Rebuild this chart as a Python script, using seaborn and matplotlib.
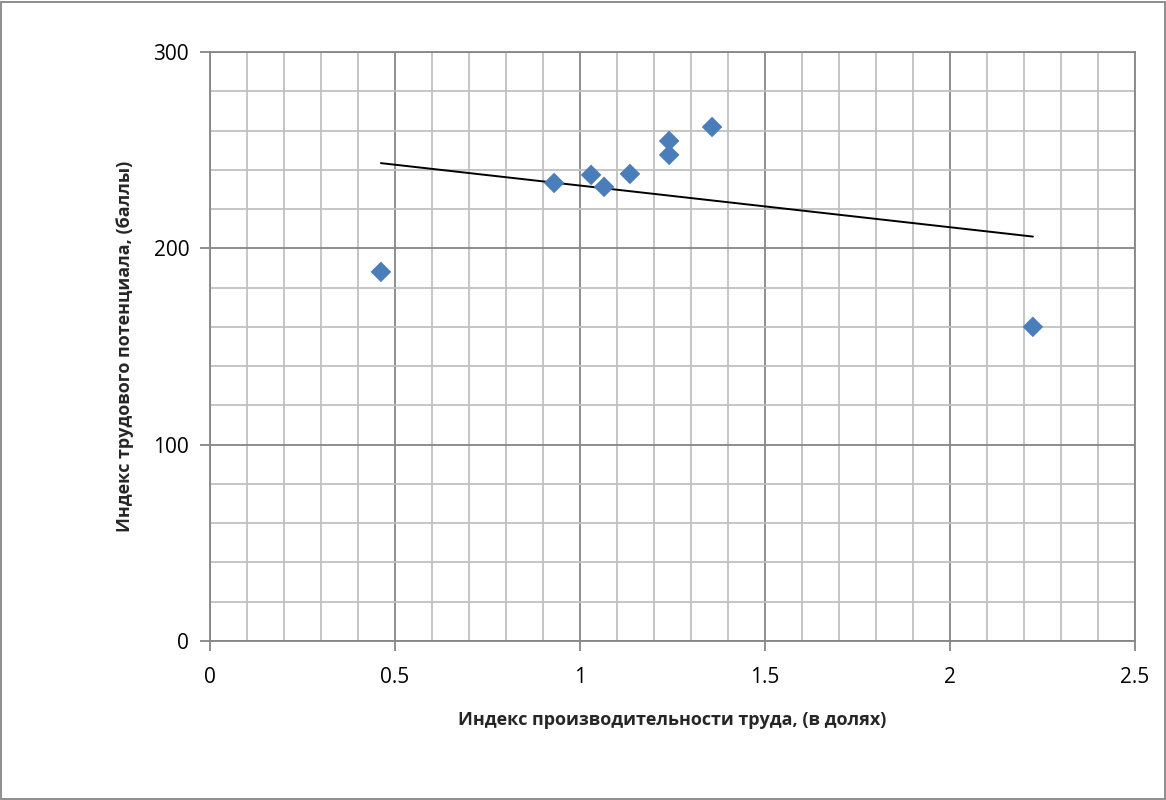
import numpy as np
import pandas as pd
import matplotlib.pyplot as plt
import seaborn as sns
from matplotlib.patches import Rectangle
from matplotlib.ticker import MultipleLocator

# Data
productivity = [0.462, 0.930, 1.030, 1.065, 1.135, 1.241, 1.241, 1.357, 2.224]
potential = [188.0, 233.3, 237.4, 231.3, 237.9, 254.7, 247.6, 261.8, 160.0]

xlabel = "Индекс производительности труда, (в долях)"
ylabel = "Индекс трудового потенциала, (баллы)"

df = pd.DataFrame({"x": productivity, "y": potential})

sns.set_theme(style="white")
plt.rcParams['font.family'] = ['Open Sans', 'DejaVu Sans']

fig = plt.figure(figsize=(11.66, 8), dpi=100)
ax = fig.add_axes([0.1801, 0.19875, 0.7933, 0.73625])

major_c = "#868686"
minor_c = "#c0c0c0"

sns.regplot(data=df, x="x", y="y", ax=ax, ci=None, marker="D",
            scatter_kws={"s": 110, "color": "#4a7ebb", "edgecolor": "none",
                         "alpha": 1, "zorder": 4},
            line_kws={"color": "black", "lw": 1.4, "zorder": 3})

ax.set_xlim(0, 2.5)
ax.set_ylim(0, 300)
ax.xaxis.set_major_locator(MultipleLocator(0.5))
ax.xaxis.set_minor_locator(MultipleLocator(0.1))
ax.yaxis.set_major_locator(MultipleLocator(100))
ax.yaxis.set_minor_locator(MultipleLocator(20))
ax.set_xticks([0, 0.5, 1, 1.5, 2, 2.5])
ax.set_xticklabels(["0", "0.5", "1", "1.5", "2", "2.5"])

ax.grid(which="minor", color=minor_c, lw=1.3, zorder=0)
ax.grid(which="major", color=major_c, lw=1.3, zorder=1)
ax.set_axisbelow(True)

for s in ax.spines.values():
    s.set_color(major_c)
    s.set_linewidth(1.3)

ax.tick_params(axis="both", which="major", direction="out", length=7, width=1.3,
               color=major_c, labelsize=15, labelcolor="black")
ax.tick_params(axis="x", which="major", bottom=True, pad=12)
ax.tick_params(axis="y", which="major", left=True, pad=8)
ax.tick_params(which="minor", length=0)

ax.set_xlabel(xlabel, fontsize=13, fontweight="bold", labelpad=16)
ax.set_ylabel(ylabel, fontsize=13, fontweight="bold", labelpad=14)

# outer chart border
fig.patches.append(Rectangle((0.001, 0.001), 0.998, 0.997, transform=fig.transFigure,
                             fill=False, edgecolor=major_c, lw=1.3))

fig.savefig("out.png", dpi=100)
